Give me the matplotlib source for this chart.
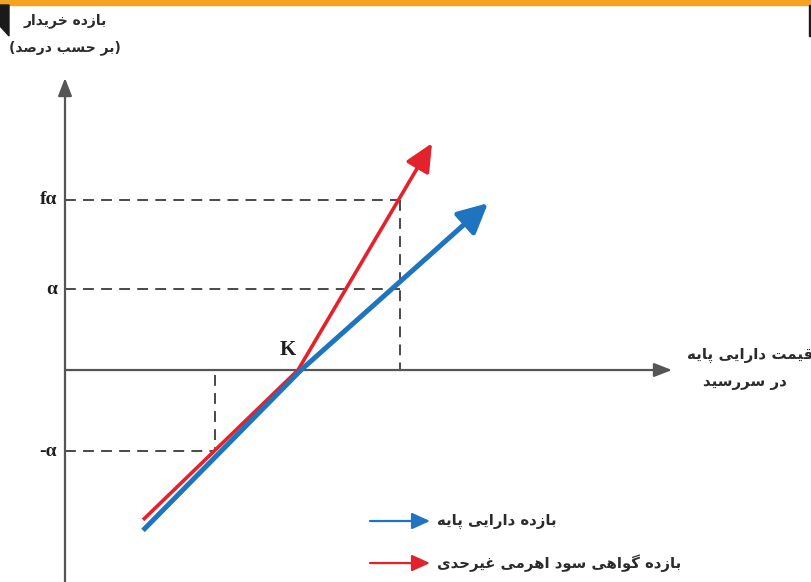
import matplotlib
matplotlib.use("Agg")
import matplotlib.pyplot as plt
from matplotlib.patches import Polygon, Rectangle

# ---- values (alpha = 1 unit of return, price in arbitrary units) ----
alpha = 1.0
f = 2.1
strike = 2.35
x_up = 3.35      # price where the underlying earns +alpha
x_down = 1.5     # price where the underlying earns -alpha

underlying_x = [0.78, 2.36, 4.23]
underlying_y = [-1.98, 0.0, 2.06]
leveraged_x = [0.78, 2.33, 3.67]
leveraged_y = [-1.85, 0.0, 2.80]

tick_labels = ["f\u03b1", "\u03b1", "-\u03b1"]
tick_values = [f * alpha, alpha, -alpha]

y_title = ["بازده خریدار", "(بر حسب درصد)"]
x_title = ["قیمت دارایی پایه", "در سررسید"]
legend_labels = ["بازده دارایی پایه", "بازده گواهی سود اهرمی غیرحدی"]

BLUE = "#1f74bf"
RED = "#e3222c"
AXIS = "#555555"
DASH = "#3a3a3a"

# ---- minimal Persian shaping (matplotlib has no complex text layout) ----
FORMS = {
    "ا": ("\uFE8D", "\uFE8E", None, None),
    "ب": ("\uFE8F", "\uFE90", "\uFE91", "\uFE92"),
    "پ": ("\uFB56", "\uFB57", "\uFB58", "\uFB59"),
    "ت": ("\uFE95", "\uFE96", "\uFE97", "\uFE98"),
    "ح": ("\uFEA1", "\uFEA2", "\uFEA3", "\uFEA4"),
    "خ": ("\uFEA5", "\uFEA6", "\uFEA7", "\uFEA8"),
    "د": ("\uFEA9", "\uFEAA", None, None),
    "ر": ("\uFEAD", "\uFEAE", None, None),
    "ز": ("\uFEAF", "\uFEB0", None, None),
    "س": ("\uFEB1", "\uFEB2", "\uFEB3", "\uFEB4"),
    "ص": ("\uFEB9", "\uFEBA", "\uFEBB", "\uFEBC"),
    "غ": ("\uFECD", "\uFECE", "\uFECF", "\uFED0"),
    "ق": ("\uFED5", "\uFED6", "\uFED7", "\uFED8"),
    "گ": ("\uFB92", "\uFB93", "\uFB94", "\uFB95"),
    "م": ("\uFEE1", "\uFEE2", "\uFEE3", "\uFEE4"),
    "ه": ("\uFEE9", "\uFEEA", "\uFEEB", "\uFEEC"),
    "و": ("\uFEED", "\uFEEE", None, None),
    "ی": ("\uFBFC", "\uFBFD", "\uFBFE", "\uFBFF"),
}
MIRROR = {"(": ")", ")": "("}


def shape(text):
    text = text.replace("\u064A", "\u06CC").replace("\u0643", "\u06A9")
    out = []
    for i, ch in enumerate(text):
        if ch not in FORMS:
            out.append(MIRROR.get(ch, ch))
            continue
        iso, fin, ini, med = FORMS[ch]
        prev = text[i - 1] if i > 0 else ""
        nxt = text[i + 1] if i + 1 < len(text) else ""
        joins_prev = prev in FORMS and FORMS[prev][2] is not None
        joins_next = ini is not None and nxt in FORMS
        if joins_prev and joins_next:
            out.append(med)
        elif joins_prev:
            out.append(fin)
        elif joins_next:
            out.append(ini)
        else:
            out.append(iso)
    return "".join(reversed(out))


FA = dict(family="DejaVu Sans", fontweight="bold", color="#2b2b2b")
LAT = dict(family="Liberation Serif", fontweight="bold", color="#1e1e1e")

fig = plt.figure(figsize=(8.12, 5.82), dpi=100)
ax = fig.add_axes([0, 0, 1, 1])
ax.set_xlim(-0.65, 7.47)
ax.set_ylim(-2.617, 4.568)
ax.axis("off")

# page decorations
fig.patches.append(Rectangle((0, 1 - 5 / 582), 1, 5 / 582, transform=fig.transFigure,
                             color="#f5a31f", zorder=0))
fig.patches.append(Polygon([(0, 1 - 5 / 582), (9 / 812, 1 - 5 / 582),
                            (9 / 812, 1 - 36 / 582), (0, 1 - 26 / 582)],
                           closed=True, transform=fig.transFigure, color="#1a1a1a"))
fig.patches.append(Rectangle((809 / 812, 1 - 36 / 582), 3 / 812, 31 / 582,
                             transform=fig.transFigure, color="#1a1a1a"))

# coordinate axes with arrow heads
axis_arrow = dict(arrowstyle="-|>,head_length=0.9,head_width=0.35", color=AXIS,
                  lw=1.6, shrinkA=0, shrinkB=0, mutation_scale=12)
ax.annotate("", xy=(0, 3.605), xytext=(0, -2.7), arrowprops=axis_arrow)
ax.annotate("", xy=(6.07, 0), xytext=(0, 0), arrowprops=axis_arrow)

# dashed guides
dash = dict(color=DASH, lw=1.3, ls=(0, (6, 4)))
ax.plot([0, x_up], [f * alpha, f * alpha], **dash)
ax.plot([x_up, x_up], [f * alpha, 0], **dash)
ax.plot([0, x_up], [alpha, alpha], **dash)
ax.plot([0, x_down], [-alpha, -alpha], **dash)
ax.plot([x_down, x_down], [-0.06, -alpha], **dash)

for lab, val in zip(tick_labels, tick_values):
    ax.text(-0.08, val, lab, ha="right", va="center", fontsize=14, **LAT)
ax.text(strike - 0.12, 0.12, "K", ha="center", va="bottom", fontsize=15, **LAT)


def payoff(xs, ys, color, lw, hl, hw, z):
    ax.plot(xs[:-1], ys[:-1], color=color, lw=lw, solid_capstyle="butt", zorder=z)
    ax.annotate("", xy=(xs[-1], ys[-1]), xytext=(xs[-2], ys[-2]),
                arrowprops=dict(arrowstyle=f"-|>,head_length={hl},head_width={hw}",
                                color=color, lw=lw, shrinkA=0, shrinkB=0,
                                mutation_scale=10), zorder=z)


payoff(leveraged_x, leveraged_y, RED, 2.6, 1.7, 0.8, 3)
payoff(underlying_x, underlying_y, BLUE, 3.6, 1.8, 0.9, 4)

# legend
for k, (lab, col) in enumerate(zip(legend_labels, [BLUE, RED])):
    yy = -1.864 - 0.519 * k
    ax.annotate("", xy=(3.65, yy), xytext=(3.05, yy),
                arrowprops=dict(arrowstyle="-|>,head_length=1.1,head_width=0.5",
                                color=col, lw=1.6, shrinkA=0, shrinkB=0,
                                mutation_scale=10))
    ax.text(3.72, yy, shape(lab), ha="left", va="center", fontsize=10.7, **FA)

# axis titles
fig.text(65 / 812, 1 - 21 / 582, shape(y_title[0]), ha="center", va="center", fontsize=10, **FA)
fig.text(65 / 812, 1 - 48 / 582, shape(y_title[1]), ha="center", va="center", fontsize=10, **FA)
fig.text(750 / 812, 1 - 355 / 582, shape(x_title[0]), ha="center", va="center", fontsize=10.8, **FA)
fig.text(745 / 812, 1 - 383 / 582, shape(x_title[1]), ha="center", va="center", fontsize=10.8, **FA)

fig.savefig("out.png", dpi=100)
